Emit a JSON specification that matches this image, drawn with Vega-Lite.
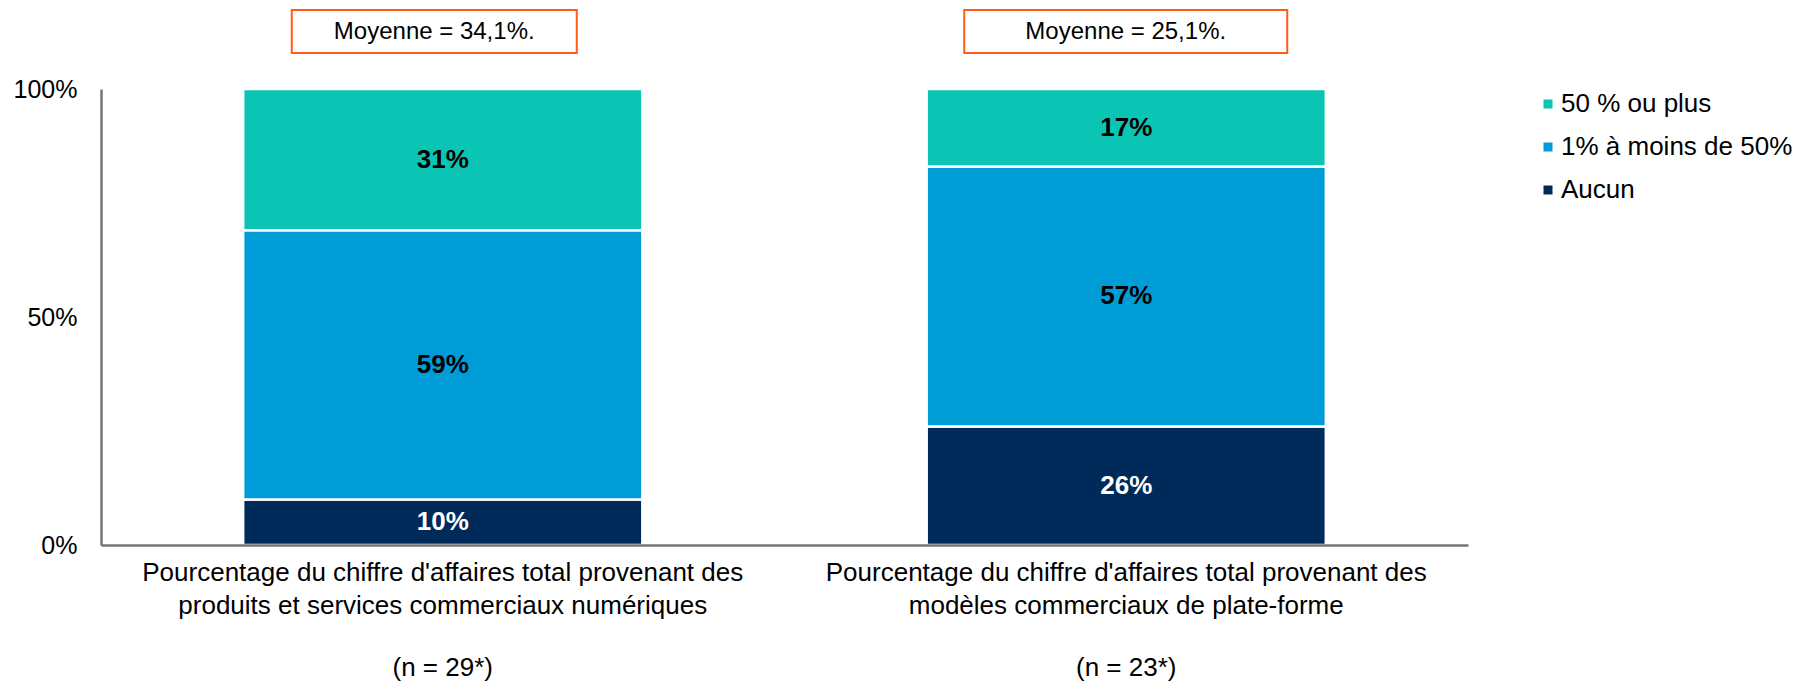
{
  "$schema": "https://vega.github.io/schema/vega-lite/v6.json",
  "width": 1367,
  "height": 456,
  "autosize": {"type": "none"},
  "padding": {"left": 101, "top": 89, "right": 328, "bottom": 137},
  "background": "white",
  "config": {"font": "Liberation Sans", "view": {"stroke": null}},
  "datasets": {
    "barres": [
      {"groupe": "A", "cat": "Aucun", "part": 0.10, "ordre": 1},
      {"groupe": "A", "cat": "1% à moins de 50%", "part": 0.59, "ordre": 2},
      {"groupe": "A", "cat": "50 % ou plus", "part": 0.31, "ordre": 3},
      {"groupe": "B", "cat": "Aucun", "part": 0.26, "ordre": 1},
      {"groupe": "B", "cat": "1% à moins de 50%", "part": 0.57, "ordre": 2},
      {"groupe": "B", "cat": "50 % ou plus", "part": 0.17, "ordre": 3}
    ],
    "moyennes": [
      {"groupe": "A", "texte": "Moyenne = 34,1%.", "n": "(n = 29*)"},
      {"groupe": "B", "texte": "Moyenne = 25,1%.", "n": "(n = 23*)"}
    ]
  },
  "layer": [
    {
      "data": {"name": "barres"},
      "mark": {"type": "bar", "stroke": "white", "strokeWidth": 2.5},
      "encoding": {
        "x": {
          "field": "groupe", "type": "nominal",
          "scale": {"paddingInner": 0.416, "paddingOuter": 0.208},
          "axis": {
            "title": null, "labelAngle": 0, "ticks": false, "zindex": 1,
            "domainColor": "#6F7777", "domainWidth": 2.5,
            "labelFontSize": 26, "labelLineHeight": 33, "labelPadding": 14,
            "labelLimit": 1000, "labelColor": "black",
            "labelExpr": "datum.value === 'A' ? ['Pourcentage du chiffre d\\'affaires total provenant des', 'produits et services commerciaux numériques'] : ['Pourcentage du chiffre d\\'affaires total provenant des', 'modèles commerciaux de plate-forme']"
          }
        },
        "y": {
          "field": "part", "type": "quantitative", "stack": "zero",
          "scale": {"domain": [0, 1], "nice": false},
          "axis": {
            "title": null, "values": [0, 0.5, 1], "format": ".0%", "ticks": false, "grid": false,
            "domainColor": "#6F7777", "domainWidth": 2.5,
            "labelFontSize": 25, "labelPadding": 24, "labelColor": "black"
          }
        },
        "color": {
          "field": "cat", "type": "nominal",
          "scale": {
            "domain": ["50 % ou plus", "1% à moins de 50%", "Aucun"],
            "range": ["#0BC5B4", "#009CD8", "#002A5A"]
          },
          "legend": {
            "title": null, "orient": "none", "legendX": 1434, "legendY": 2,
            "symbolType": "square", "symbolSize": 81, "symbolStrokeWidth": 0,
            "labelFontSize": 26, "labelColor": "black", "labelOffset": 0,
            "rowPadding": 17, "padding": 0, "labelLimit": 400
          }
        },
        "order": {"field": "ordre", "type": "quantitative"}
      }
    },
    {
      "data": {"name": "barres"},
      "mark": {"type": "text", "fontSize": 26, "fontWeight": "bold", "baseline": "middle", "align": "center"},
      "encoding": {
        "x": {"field": "groupe", "type": "nominal"},
        "y": {"field": "part", "type": "quantitative", "stack": "zero", "bandPosition": 0.5},
        "order": {"field": "ordre", "type": "quantitative"},
        "text": {"field": "part", "type": "quantitative", "format": ".0%"},
        "color": {"condition": {"test": "datum.cat === 'Aucun'", "value": "white"}, "value": "black"}
      }
    },
    {
      "data": {"name": "moyennes"},
      "mark": {"type": "point", "filled": false, "stroke": "#FF5B1A", "strokeWidth": 2, "opacity": 1, "yOffset": -57.5,
        "xOffset": {"expr": "datum.groupe === 'A' ? -8.5 : -0.5"}},
      "encoding": {
        "x": {"field": "groupe", "type": "nominal"},
        "y": {"datum": 1},
        "shape": {"condition": {"test": "datum.groupe === 'A'", "value": "M-1,-0.1509H1V0.1509H-1Z"}, "value": "M-1,-0.1331H1V0.1331H-1Z"},
        "size": {"condition": {"test": "datum.groupe === 'A'", "value": 81225}, "value": 104329}
      }
    },
    {
      "data": {"name": "moyennes"},
      "mark": {"type": "text", "fontSize": 24, "color": "black", "baseline": "middle", "align": "center", "yOffset": -57.5,
        "xOffset": {"expr": "datum.groupe === 'A' ? -8.5 : -0.5"}},
      "encoding": {
        "x": {"field": "groupe", "type": "nominal"},
        "y": {"datum": 1},
        "text": {"field": "texte"}
      }
    },
    {
      "data": {"name": "moyennes"},
      "mark": {"type": "text", "fontSize": 26, "color": "black", "baseline": "middle", "align": "center", "yOffset": 123},
      "encoding": {
        "x": {"field": "groupe", "type": "nominal"},
        "y": {"datum": 0},
        "text": {"field": "n"}
      }
    }
  ]
}
